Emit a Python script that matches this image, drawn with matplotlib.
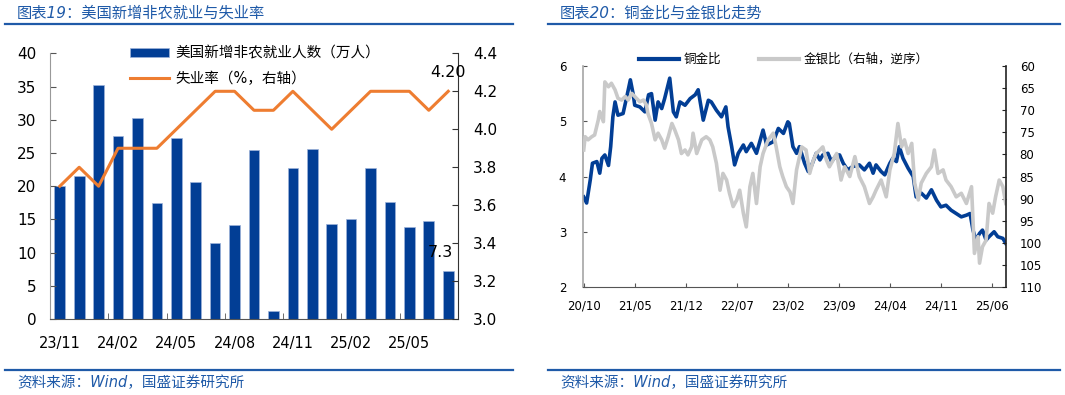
import matplotlib
matplotlib.use("Agg")
import matplotlib.pyplot as plt
import numpy as np
import pandas as pd
from matplotlib.lines import Line2D
from matplotlib.patches import Patch

plt.rcParams['font.family'] = ['DejaVu Sans', 'Noto Sans CJK SC']
plt.rcParams['axes.unicode_minus'] = False

# ---- left panel data: nonfarm payrolls (10k) and unemployment rate (%)
nfp_months = ['23/11', '23/12', '24/01', '24/02', '24/03', '24/04', '24/05', '24/06',
              '24/07', '24/08', '24/09', '24/10', '24/11', '24/12', '25/01', '25/02',
              '25/03', '25/04', '25/05', '25/06', '25/07']
nfp_adds = [20.0, 21.6, 35.3, 27.5, 30.3, 17.5, 27.2, 20.6, 11.4, 14.2, 25.4,
            1.2, 22.7, 25.6, 14.3, 15.1, 22.8, 17.7, 13.9, 14.7, 7.3]
unemp_rate = [3.7, 3.8, 3.7, 3.9, 3.9, 3.9, 4.0, 4.1, 4.2, 4.2, 4.1,
              4.1, 4.2, 4.1, 4.0, 4.1, 4.2, 4.2, 4.2, 4.1, 4.2]

# ---- right panel data (x = months since 2020-10)
cg_month = [0.0, 0.4, 0.9, 1.2, 1.8, 2.2, 2.5, 2.9, 3.4, 3.7, 4.0, 4.3, 4.7, 5.4, 6.0,
            6.4, 6.8, 7.0, 7.7, 8.4, 8.9, 9.3, 9.8, 10.2, 10.7, 11.1, 11.8, 12.3, 12.7,
            13.2, 13.9, 14.6, 15.3, 15.7, 16.4, 17.1, 17.5, 18.2, 18.9, 19.5, 19.8,
            20.3, 20.7, 21.2, 21.9, 22.3, 23.0, 23.7, 24.6, 25.1, 26.0, 26.7, 27.4,
            28.0, 28.2, 28.7, 29.2, 29.6, 30.3, 30.8, 31.2, 31.9, 32.4, 32.8, 33.5,
            34.0, 34.7, 35.1, 35.6, 36.2, 36.9, 37.8, 38.5, 39.2, 39.7, 40.1, 40.8,
            41.3, 42.0, 42.4, 42.9, 43.3, 43.8, 44.5, 45.2, 45.6, 46.3, 47.0, 47.7,
            48.4, 49.0, 49.7, 50.4, 51.1, 51.8, 52.5, 53.0, 53.4, 53.8, 54.3, 54.7,
            55.2, 55.6, 56.3, 56.8, 57.5, 57.9]
cg_ratio = [3.63, 3.52, 3.94, 4.24, 4.27, 4.06, 4.33, 4.39, 4.20, 4.54, 5.08, 5.35, 5.11,
            5.14, 5.50, 5.75, 5.48, 5.29, 5.26, 5.17, 5.48, 5.50, 5.02, 5.35, 5.23, 5.41,
            5.78, 5.17, 5.08, 5.35, 5.29, 5.41, 5.48, 5.57, 5.02, 5.38, 5.35, 5.20, 5.08,
            5.26, 4.90, 4.54, 4.21, 4.42, 4.57, 4.45, 4.60, 4.42, 4.84, 4.57, 4.63, 4.87,
            4.78, 4.99, 4.96, 4.54, 4.42, 4.54, 4.24, 4.09, 4.18, 4.42, 4.30, 4.39, 4.42,
            4.27, 4.39, 4.39, 4.24, 4.12, 4.18, 4.21, 4.12, 4.24, 4.06, 4.21, 4.09, 4.03,
            4.24, 4.33, 4.27, 4.54, 4.33, 4.15, 4.00, 3.63, 3.70, 3.61, 3.76, 3.57, 3.45,
            3.48, 3.39, 3.33, 3.27, 3.30, 3.33, 3.03, 2.85, 2.97, 3.03, 2.85, 2.91, 3.00,
            2.91, 2.88, 2.79]

gs_month = [0.0, 0.2, 0.6, 1.1, 1.5, 2.0, 2.2, 2.7, 2.9, 3.4, 3.8, 4.3, 4.7, 5.2, 5.7,
            6.1, 6.6, 7.0, 7.7, 8.2, 8.6, 8.8, 9.3, 9.8, 10.2, 10.7, 11.1, 11.6, 12.1,
            12.5, 13.0, 13.4, 13.9, 14.3, 14.8, 15.0, 15.5, 16.2, 16.8, 17.3, 17.7, 18.2,
            18.7, 19.1, 19.6, 20.0, 20.5, 21.0, 21.4, 21.9, 22.3, 22.8, 23.2, 23.7, 24.2,
            24.6, 25.3, 26.0, 26.4, 26.9, 27.3, 27.8, 28.3, 28.7, 29.2, 29.9, 30.5, 31.0,
            31.5, 31.9, 32.4, 32.8, 33.3, 33.7, 34.2, 34.7, 35.3, 35.8, 36.5, 37.2, 37.8,
            38.5, 39.2, 39.7, 40.1, 40.8, 41.5, 42.0, 42.6, 43.1, 43.6, 44.0, 44.5, 45.0,
            45.4, 45.9, 46.3, 47.0, 47.7, 48.1, 48.6, 49.3, 49.7, 50.4, 51.1, 51.8, 52.5,
            53.2, 53.6, 54.1, 54.3, 54.7, 55.2, 55.6, 56.1, 56.5, 57.0, 57.5, 57.9]
gs_ratio = [79.0, 76.0, 76.7, 76.0, 75.6, 72.2, 70.3, 72.6, 63.6, 64.7, 63.9, 65.4, 67.3,
            67.7, 66.9, 67.7, 66.2, 66.9, 68.1, 67.7, 68.8, 70.7, 73.0, 76.7, 75.2, 76.7,
            78.6, 76.0, 73.0, 74.5, 76.7, 79.8, 79.0, 80.1, 78.3, 75.2, 79.8, 76.7, 76.0,
            76.7, 78.3, 82.0, 88.1, 84.3, 85.8, 88.8, 91.8, 90.3, 88.1, 93.3, 96.4, 87.3,
            84.3, 91.1, 82.8, 79.8, 76.7, 75.2, 78.3, 82.8, 85.0, 87.3, 88.5, 91.1, 83.5,
            78.3, 79.0, 84.3, 81.3, 79.8, 79.0, 78.3, 81.3, 82.8, 81.3, 79.8, 85.8, 82.8,
            85.0, 80.5, 85.0, 87.3, 91.1, 89.6, 88.1, 85.8, 89.6, 83.5, 79.8, 73.0, 78.3,
            76.7, 79.8, 77.5, 86.5, 90.3, 86.5, 84.3, 82.8, 79.0, 84.3, 83.5, 85.8, 87.3,
            89.6, 88.8, 91.1, 87.3, 102.4, 98.6, 104.6, 100.9, 99.4, 91.1, 93.3, 89.6,
            85.8, 87.3, 91.1]

BAR_BLUE = '#023E95'
ORANGE = '#EE7D31'
GRAY = '#C9C9C9'
HEAD_BLUE = '#1F5AA8'

fig = plt.figure(figsize=(10.65, 3.95), dpi=100)

# header / footer decoration
for x0, x1, title in [(0.005, 0.482, '图表19：美国新增非农就业与失业率'),
                      (0.515, 0.995, '图表20：铜金比与金银比走势')]:
    fig.add_artist(Line2D([x0, x1], [0.939, 0.939], color=HEAD_BLUE, lw=1.6))
    fig.add_artist(Line2D([x0, x1], [0.063, 0.063], color=HEAD_BLUE, lw=1.6))
    fig.text(x0 + 0.011, 0.967, title, color=HEAD_BLUE, fontsize=11,
             style='italic', va='center')
    fig.text(x0 + 0.011, 0.032, '资料来源：Wind，国盛证券研究所', color=HEAD_BLUE,
             fontsize=10.5, style='italic', va='center')

# ---------------- left panel
ax1 = fig.add_axes([0.047, 0.192, 0.383, 0.673])
x = np.arange(len(nfp_months))
ax1.bar(x, nfp_adds, width=0.55, color=BAR_BLUE, edgecolor='#9DB3DA', linewidth=0.5)
ax1.set_xlim(-0.5, len(nfp_months) - 0.5)
ax1.set_ylim(0, 40)
ax1.set_yticks(np.arange(0, 41, 5))
ax1.set_xticks(x[::3])
ax1.set_xticklabels(nfp_months[::3])
ax1.set_xticks(np.arange(2.5, len(nfp_months) - 1, 3), minor=True)
ax1.tick_params(axis='x', which='major', length=0, pad=12, labelsize=10.5)
ax1.tick_params(axis='x', which='minor', direction='in', length=4, color='#555555')
ax1.tick_params(axis='y', direction='in', length=4, pad=10, labelsize=11, color='#555555')
ax1.spines['top'].set_visible(False)
ax1.spines['left'].set_color('#999999')
ax1.spines['right'].set_visible(False)
ax1.spines['bottom'].set_color('#555555')
ax1.text(x[-1] - 0.4, nfp_adds[-1] + 2.8, f'{nfp_adds[-1]:.1f}', ha='center',
         va='center', fontsize=11.5)

ax1r = ax1.twinx()
ax1r.plot(x, unemp_rate, color=ORANGE, lw=2.2)
ax1r.set_ylim(3.0, 4.4)
ax1r.set_yticks(np.arange(3.0, 4.41, 0.2))
ax1r.yaxis.set_major_formatter(matplotlib.ticker.FormatStrFormatter('%.1f'))
ax1r.tick_params(axis='y', direction='in', length=4, pad=11, labelsize=11, color='#333333')
for s in ['top', 'left', 'bottom']:
    ax1r.spines[s].set_visible(False)
ax1r.spines['right'].set_color('#333333')
ax1r.text(x[-1], unemp_rate[-1] + 0.1, f'{unemp_rate[-1]:.2f}', ha='center',
          va='center', fontsize=11.5)

handles1 = [Patch(facecolor=BAR_BLUE, edgecolor='#9DB3DA', linewidth=0.5),
            Line2D([], [], color=ORANGE, lw=2.2)]
fig.legend(handles1, ['美国新增非农就业人数（万人）', '失业率（%，右轴）'],
           loc='upper left', bbox_to_anchor=(0.122, 0.885), frameon=False,
           fontsize=10.5, handlelength=2.7, handleheight=0.6, handletextpad=0.45,
           labelspacing=0.75, borderpad=0, borderaxespad=0)

# ---------------- right panel
ax2 = fig.add_axes([0.5474, 0.2734, 0.397, 0.5595])
ax2.plot(cg_month, cg_ratio, color=BAR_BLUE, lw=2.6)
ax2.set_ylim(2, 6)
ax2.set_yticks([2, 3, 4, 5, 6])
ax2.set_xlim(-0.1, 57.9)
tick_m = np.arange(0, 57, 7)
ax2.set_xticks(tick_m)
ax2.set_xticklabels([(pd.Timestamp('2020-10-01') + pd.DateOffset(months=int(m))).strftime('%y/%m')
                     for m in tick_m])
ax2.tick_params(direction='in', length=3, labelsize=8.5, color='#555555')
ax2.tick_params(axis='x', pad=9)
ax2.tick_params(axis='y', pad=12)
ax2.spines['top'].set_visible(False)
ax2.spines['right'].set_visible(False)
ax2.spines['left'].set_color('#A6A6A6')
ax2.spines['left'].set_linewidth(1.2)
ax2.spines['bottom'].set_color('#555555')

ax2r = ax2.twinx()
ax2r.plot(gs_month, gs_ratio, color=GRAY, lw=2.6)
ax2r.set_ylim(110, 60)
ax2r.set_yticks(np.arange(60, 111, 5))
ax2r.tick_params(axis='y', direction='in', length=3, pad=10, labelsize=8.5, color='#222222')
for s in ['top', 'left', 'bottom']:
    ax2r.spines[s].set_visible(False)
ax2r.spines['right'].set_color('#222222')
ax2r.spines['right'].set_linewidth(1.2)

handles2 = [Line2D([], [], color=BAR_BLUE, lw=3), Line2D([], [], color=GRAY, lw=3)]
fig.legend(handles2, ['铜金比', '金银比（右轴，逆序）'], loc='upper left',
           bbox_to_anchor=(0.600, 0.866), ncol=2, frameon=False, fontsize=9,
           handlelength=3.2, handletextpad=0.4, columnspacing=3.0,
           borderpad=0, borderaxespad=0)

fig.savefig('out.png', dpi=100, facecolor='white')
